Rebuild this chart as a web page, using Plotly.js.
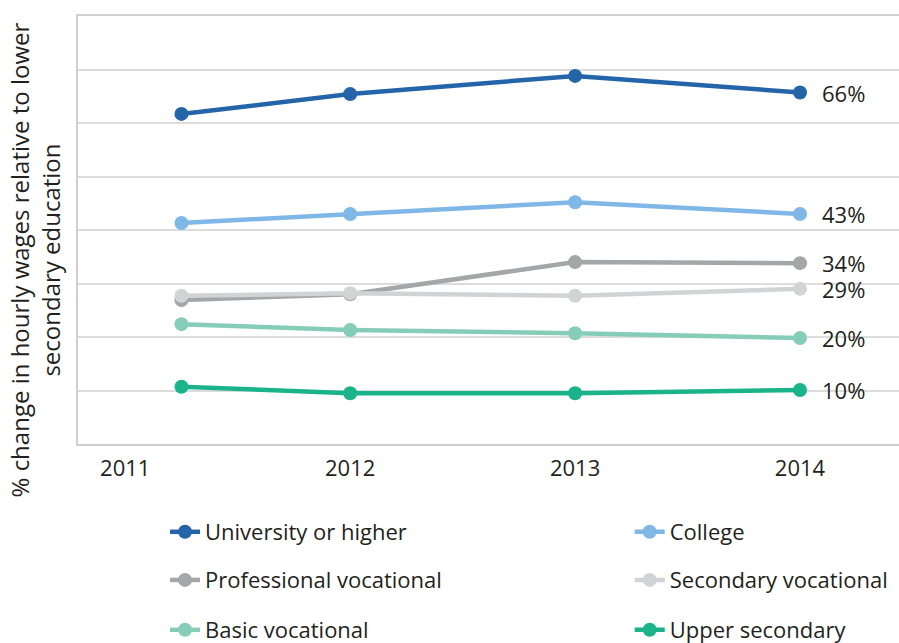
<!DOCTYPE html>
<html>
<head>
<meta charset="utf-8">
<script src="https://cdn.plot.ly/plotly-3.0.1.min.js"></script>
<style>html,body{margin:0;padding:0;background:#fff;overflow:hidden;}#chart{width:899px;height:655px;}</style>
</head>
<body>
<div id="chart"></div>
<script>
const years = [2011.25, 2012, 2013, 2014];
const tickYears = [2011, 2012, 2013, 2014];
const tickLabels = ["2011", "2012", "2013", "2014"];

const seriesNames = ["University or higher", "College", "Professional vocational", "Secondary vocational", "Basic vocational", "Upper secondary"];
const university = [61.7, 65.4, 68.8, 65.7];
const college = [41.3, 43.0, 45.2, 43.0];
const professional = [26.9, 28.0, 34.0, 33.8];
const secondaryVoc = [27.7, 28.2, 27.7, 29.0];
const basicVoc = [22.4, 21.3, 20.7, 19.8];
const upperSec = [10.7, 9.5, 9.5, 10.1];
const endLabels = ["66%", "43%", "34%", "29%", "20%", "10%"];

const colors = ["#2464a8", "#7fb8e6", "#a5a6a8", "#d2d3d5", "#86cdb8", "#1bb38a"];
const legendIds = ["legend", "legend2", "legend3", "legend4", "legend5", "legend6"];
const allSeries = [university, college, professional, secondaryVoc, basicVoc, upperSec];

const traces = allSeries.map((vals, i) => ({
  type: "scatter",
  mode: "lines+markers",
  name: seriesNames[i],
  x: years,
  y: vals,
  line: {color: colors[i], width: 4.5},
  marker: {color: colors[i], size: 14},
  legend: legendIds[i],
  hoverinfo: "x+y+name"
}));

const annotations = allSeries.map((vals, i) => ({
  x: years[years.length - 1],
  y: vals[vals.length - 1],
  xref: "x", yref: "y",
  text: endLabels[i],
  showarrow: false,
  xanchor: "left",
  yanchor: "middle",
  xshift: 20,
  font: {family: "Open Sans, sans-serif", size: 22, color: "#231f20"}
}));

annotations.push({
  xref: "paper", yref: "paper",
  x: -0.053, y: 0.43,
  xanchor: "center", yanchor: "middle",
  textangle: -90,
  showarrow: false,
  text: "% change in hourly wages relative to lower<br>secondary education",
  font: {family: "Open Sans, sans-serif", size: 24, color: "#231f20"}
});

const legendFont = {family: "Open Sans, sans-serif", size: 22, color: "#231f20"};
function mkLegend(x, y) {
  return {
    orientation: "h", xanchor: "left", yanchor: "middle",
    x: x, y: y, bgcolor: "rgba(0,0,0,0)", font: legendFont
  };
}
const colX = [0.106, 0.672];
const rowY = [-0.2056, -0.318, -0.4346];

const layout = {
  width: 899,
  height: 655,
  margin: {l: 78, r: 0, t: 16, b: 211},
  paper_bgcolor: "#ffffff",
  plot_bgcolor: "#ffffff",
  showlegend: true,
  xaxis: {
    range: [2010.79, 2014.44],
    tickvals: tickYears,
    ticktext: tickLabels,
    showgrid: false,
    zeroline: false,
    showline: true,
    mirror: true,
    linecolor: "#cfcfcf",
    linewidth: 2,
    ticks: "",
    tickfont: {family: "Open Sans, sans-serif", size: 22, color: "#231f20"},
    ticklabelstandoff: 4,
    fixedrange: true
  },
  yaxis: {
    range: [0, 80],
    dtick: 10,
    showticklabels: false,
    showgrid: true,
    gridcolor: "#dcdcdc",
    gridwidth: 1.5,
    zeroline: false,
    showline: true,
    linecolor: "#cfcfcf",
    linewidth: 2,
    ticks: "",
    fixedrange: true
  },
  legend: mkLegend(colX[0], rowY[0]),
  legend2: mkLegend(colX[1], rowY[0]),
  legend3: mkLegend(colX[0], rowY[1]),
  legend4: mkLegend(colX[1], rowY[1]),
  legend5: mkLegend(colX[0], rowY[2]),
  legend6: mkLegend(colX[1], rowY[2]),
  annotations: annotations
};

Plotly.newPlot("chart", traces, layout, {displayModeBar: false});
</script>
</body>
</html>
